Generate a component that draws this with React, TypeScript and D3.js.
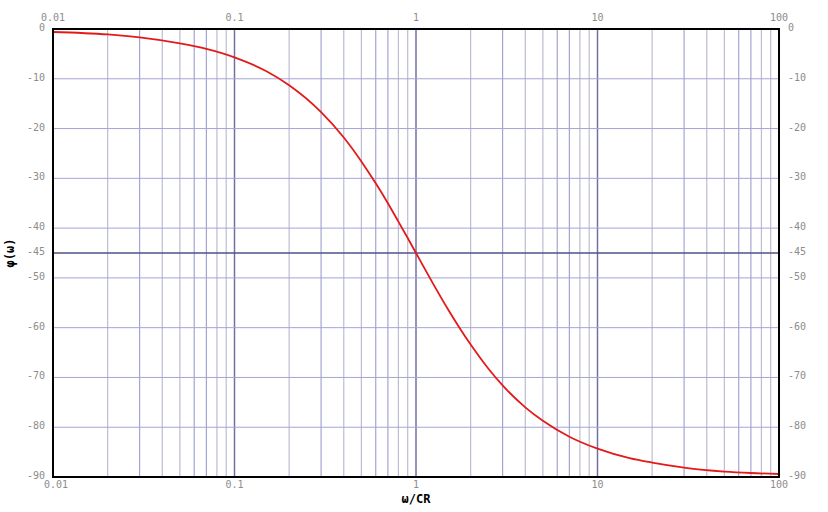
import React from "react";
import * as d3 from "d3";

const freq = [0.01, 0.02, 0.03, 0.05, 0.07, 0.1, 0.15, 0.2, 0.3, 0.4, 0.5, 0.6, 0.7, 0.8, 0.9, 1, 1.2, 1.5, 2, 2.5, 3, 4, 5, 7, 10, 15, 20, 30, 50, 70, 100];
const phase = [-0.6, -1.1, -1.7, -2.9, -4.0, -5.7, -8.5, -11.3, -16.7, -21.8, -26.6, -31.0, -35.0, -38.7, -42.0, -45.0, -50.2, -56.3, -63.4, -68.2, -71.6, -76.0, -78.7, -81.9, -84.3, -86.2, -87.1, -88.1, -88.9, -89.2, -89.4];
const xTickLabels = ["0.01", "0.1", "1", "10", "100"];
const xTicks = [0.01, 0.1, 1, 10, 100];
const yTicks = [0, -10, -20, -30, -40, -45, -50, -60, -70, -80, -90];

const W = 828, H = 512;
const L = 53, R = 779, T = 29, B = 477;

export default function App() {
  const x = d3.scaleLog().domain([0.01, 100]).range([L, R]);
  const y = d3.scaleLinear().domain([0, -90]).range([T, B]);
  const minor: { v: number; k: number }[] = [];
  [0.01, 0.1, 1, 10].forEach((d) => {
    for (let k = 2; k <= 9; k++) minor.push({ v: d * k, k });
  });
  const pts = freq.map((f, i) => [f, phase[i]] as [number, number]);
  const line = d3.line<[number, number]>().x((d) => x(d[0])).y((d) => y(d[1])).curve(d3.curveMonotoneX);
  const font = "'DejaVu Sans Mono', monospace";
  return (
    <div style={{ position: "absolute", left: 0, top: 0 }}>
      <svg width={W} height={H} style={{ display: "block", background: "#fff" }}>
        {minor.map((m) => (
          <line key={"m" + m.v} x1={x(m.v)} x2={x(m.v)} y1={T} y2={B} stroke={m.k === 3 || m.k === 6 || m.k === 7 ? "#a4a4d2" : "#bcbcd4"} strokeWidth={1.2} />
        ))}
        {[0.1, 1, 10].map((m) => (
          <line key={"d" + m} x1={x(m)} x2={x(m)} y1={T} y2={B} stroke="#7070a8" strokeWidth={1.5} />
        ))}
        {yTicks.map((t) => (
          <line key={"h" + t} x1={L} x2={R} y1={y(t)} y2={y(t)} stroke={t === -45 ? "#50508c" : "#a4a4d6"} strokeWidth={t === -45 ? 1.5 : 1} />
        ))}
        <path d={line(pts) || ""} fill="none" stroke="#e41a1a" strokeWidth={1.8} />
        <rect x={L} y={T} width={R - L} height={B - T} fill="none" stroke="#000" strokeWidth={2} />
        {xTicks.map((t, i) => (
          <g key={"xt" + t} fontFamily={font} fontSize={10} fill="#8c8c8c">
            <text x={x(t)} y={18} textAnchor="middle" dominantBaseline="middle">{xTickLabels[i]}</text>
            <text x={x(t) + (i === 0 ? 3 : 0)} y={485} textAnchor="middle" dominantBaseline="middle">{xTickLabels[i]}</text>
          </g>
        ))}
        {yTicks.map((t) => (
          <g key={"yt" + t} fontFamily={font} fontSize={10} fill="#8c8c8c">
            <text x={45} y={y(t) - 1} textAnchor="end" dominantBaseline="middle">{t}</text>
            <text x={788} y={y(t) - 1} textAnchor="start" dominantBaseline="middle">{t}</text>
          </g>
        ))}
        <text x={(L + R) / 2} y={499} textAnchor="middle" dominantBaseline="middle" fontFamily={font} fontSize={12} fontWeight="bold" fill="#000">ω/CR</text>
        <text transform={`translate(10,${(T + B) / 2}) rotate(-90)`} textAnchor="middle" dominantBaseline="middle" fontFamily={font} fontSize={12} fontWeight="bold" fill="#000">φ(ω)</text>
      </svg>
    </div>
  );
}
